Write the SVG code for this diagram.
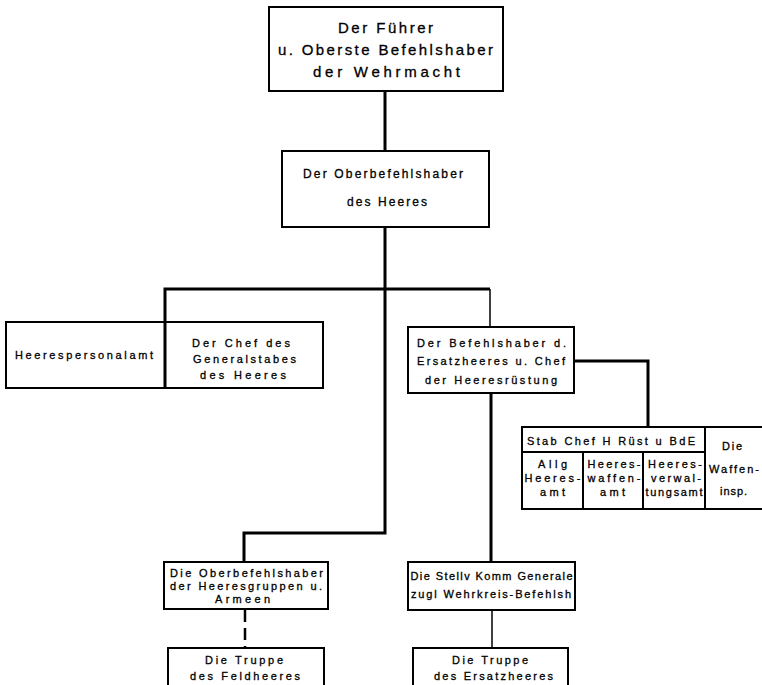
<svg xmlns="http://www.w3.org/2000/svg" width="762" height="685" viewBox="0 0 762 685">
<style>
.box{fill:#fff;stroke:#000;stroke-width:2}
.ln{fill:none;stroke:#000;stroke-width:3}
.thin{fill:none;stroke:#000;stroke-width:1.5}
.dash{fill:none;stroke:#000;stroke-width:2.5;stroke-dasharray:12,6}
text{font-family:"Liberation Sans","DejaVu Sans",sans-serif;fill:#000;stroke:#000;stroke-width:0.3;text-anchor:middle}
.t15{font-size:15px}
.t11{font-size:12px}
.t10{font-size:11px}
</style>
<rect width="762" height="685" fill="#fff"/>
<g id="connectors">
<line class="ln" x1="385" y1="91" x2="385" y2="151"/>
<polyline class="ln" points="385,227 385,533 244,533 244,562"/>
<polyline class="ln" points="165,322 165,289 490,289"/>
<line class="thin" x1="490" y1="289" x2="490" y2="327"/>
<line class="ln" x1="491" y1="393" x2="491" y2="562"/>
<polyline class="ln" points="574,361 648,361 648,427"/>
<line class="dash" x1="245" y1="610" x2="245" y2="648"/>
<line class="thin" x1="492" y1="610" x2="492" y2="648"/>
</g>
<g id="fuehrer">
<rect class="box" x="269" y="7" width="234" height="84"/>
<text class="t15" x="385.5" y="33" textLength="95" lengthAdjust="spacing">Der Führer</text>
<text class="t15" x="385.5" y="55" textLength="215" lengthAdjust="spacing">u. Oberste Befehlshaber</text>
<text class="t15" x="386.5" y="77" textLength="147" lengthAdjust="spacing">der Wehrmacht</text>
</g>
<g id="ob-heer">
<rect class="box" x="282" y="151" width="207" height="76"/>
<text class="t11" x="383" y="178" textLength="160" lengthAdjust="spacing">Der Oberbefehlshaber</text>
<text class="t11" x="387" y="206" textLength="80" lengthAdjust="spacing">des Heeres</text>
</g>
<g id="personalamt">
<rect class="box" x="6" y="322" width="159" height="66"/>
<text class="t10" x="84" y="359" textLength="138" lengthAdjust="spacing">Heerespersonalamt</text>
</g>
<g id="generalstab">
<rect class="box" x="165" y="322" width="158" height="66"/>
<line class="ln" x1="165" y1="322" x2="165" y2="388"/>
<text class="t10" x="241" y="347" textLength="98" lengthAdjust="spacing">Der Chef des</text>
<text class="t10" x="244.5" y="363" textLength="103" lengthAdjust="spacing">Generalstabes</text>
<text class="t10" x="243" y="379" textLength="86" lengthAdjust="spacing">des Heeres</text>
</g>
<g id="ersatzheer">
<rect class="box" x="408" y="327" width="166" height="66"/>
<text class="t10" x="491.5" y="347" textLength="149" lengthAdjust="spacing">Der Befehlshaber d.</text>
<text class="t10" x="491" y="365" textLength="148" lengthAdjust="spacing">Ersatzheeres u. Chef</text>
<text class="t10" x="491" y="384" textLength="132" lengthAdjust="spacing">der Heeresrüstung</text>
</g>
<g id="stab">
<path class="box" d="M768,427 H522 V509 H768"/>
<line class="box" x1="522" y1="452" x2="705" y2="452"/>
<line class="box" x1="583" y1="452" x2="583" y2="509"/>
<line class="box" x1="643" y1="452" x2="643" y2="509"/>
<line class="box" x1="705" y1="427" x2="705" y2="509"/>
<text class="t10" x="611" y="445" textLength="168" lengthAdjust="spacing">Stab Chef H Rüst u BdE</text>
<text class="t10" x="552.5" y="468" textLength="29" lengthAdjust="spacing">Allg</text>
<text class="t10" x="552.5" y="482" textLength="56" lengthAdjust="spacing">Heeres-</text>
<text class="t10" x="552.5" y="496" textLength="25" lengthAdjust="spacing">amt</text>
<text class="t10" x="614" y="468" textLength="53" lengthAdjust="spacing">Heeres-</text>
<text class="t10" x="614" y="482" textLength="53" lengthAdjust="spacing">waffen-</text>
<text class="t10" x="612.5" y="496" textLength="25" lengthAdjust="spacing">amt</text>
<text class="t10" x="675" y="468" textLength="54" lengthAdjust="spacing">Heeres-</text>
<text class="t10" x="676" y="482" textLength="50" lengthAdjust="spacing">verwal-</text>
<text class="t10" x="674" y="496" textLength="57" lengthAdjust="spacing">tungsamt</text>
<text class="t10" x="732" y="450" textLength="20" lengthAdjust="spacing">Die</text>
<text class="t10" x="734" y="473" textLength="50" lengthAdjust="spacing">Waffen-</text>
<text class="t10" x="733.5" y="495" textLength="27" lengthAdjust="spacing">insp.</text>
</g>
<g id="ob-heeresgruppen">
<rect class="box" x="164" y="562" width="164" height="47"/>
<text class="t10" x="246.5" y="577" textLength="153" lengthAdjust="spacing">Die Oberbefehlshaber</text>
<text class="t10" x="246" y="590" textLength="152" lengthAdjust="spacing">der Heeresgruppen u.</text>
<text class="t10" x="242.5" y="603" textLength="55" lengthAdjust="spacing">Armeen</text>
</g>
<g id="stellv-komm">
<rect class="box" x="408" y="562" width="167" height="48"/>
<text class="t10" x="491.5" y="580" textLength="162" lengthAdjust="spacing">Die Stellv Komm Generale</text>
<text class="t10" x="491" y="598" textLength="160" lengthAdjust="spacing">zugl Wehrkreis-Befehlsh</text>
</g>
<g id="feldheer">
<path class="box" d="M168,690 V648 H324 V690"/>
<text class="t10" x="244" y="664" textLength="78" lengthAdjust="spacing">Die Truppe</text>
<text class="t10" x="245" y="680" textLength="110" lengthAdjust="spacing">des Feldheeres</text>
</g>
<g id="ersatztruppe">
<path class="box" d="M413,690 V648 H568 V690"/>
<text class="t10" x="490" y="664" textLength="76" lengthAdjust="spacing">Die Truppe</text>
<text class="t10" x="493.5" y="680" textLength="119" lengthAdjust="spacing">des Ersatzheeres</text>
</g>
</svg>
